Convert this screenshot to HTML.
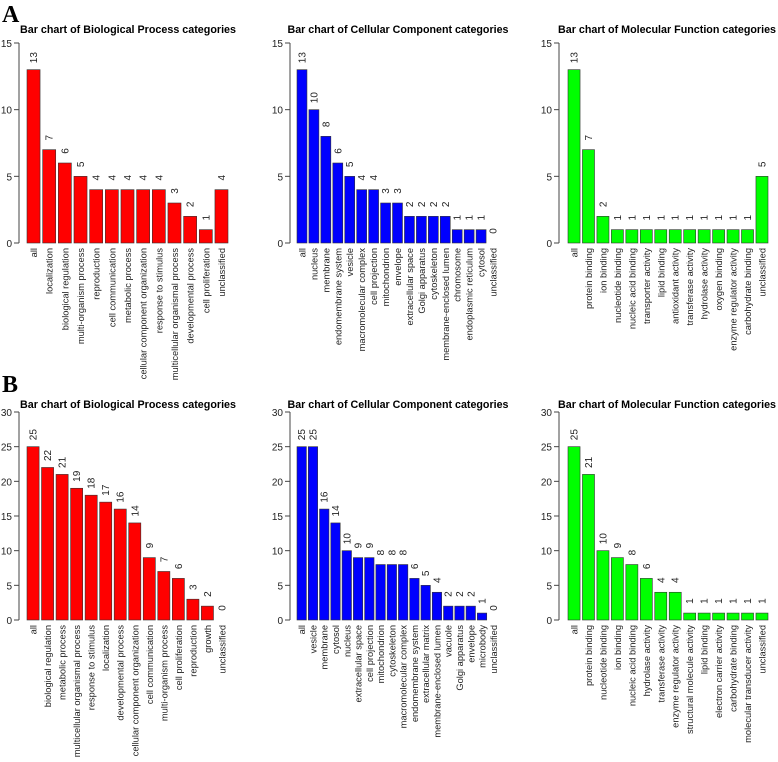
<!DOCTYPE html>
<html><head><meta charset="utf-8"><style>
body{margin:0;background:#fff}
svg{display:block;font-family:"Liberation Sans",sans-serif}
</style></head><body>
<svg id="fig" width="778" height="762" viewBox="0 0 778 762">
<text x="2" y="22" font-family="Liberation Serif,serif" font-weight="bold" font-size="24">A</text>
<text x="2" y="392" font-family="Liberation Serif,serif" font-weight="bold" font-size="24">B</text>
</svg>
<script>
const aBpCats=["all","localization","biological regulation","multi-organism process","reproduction","cell communication","metabolic process","cellular component organization","response to stimulus","multicellular organismal process","developmental process","cell proliferation","unclassified"];
const aBpVals=[13,7,6,5,4,4,4,4,4,3,2,1,4];
const aCcCats=["all","nucleus","membrane","endomembrane system","vesicle","macromolecular complex","cell projection","mitochondrion","envelope","extracellular space","Golgi apparatus","cytoskeleton","membrane-enclosed lumen","chromosome","endoplasmic reticulum","cytosol","unclassified"];
const aCcVals=[13,10,8,6,5,4,4,3,3,2,2,2,2,1,1,1,0];
const aMfCats=["all","protein binding","ion binding","nucleotide binding","nucleic acid binding","transporter activity","lipid binding","antioxidant activity","transferase activity","hydrolase activity","oxygen binding","enzyme regulator activity","carbohydrate binding","unclassified"];
const aMfVals=[13,7,2,1,1,1,1,1,1,1,1,1,1,5];
const bBpCats=["all","biological regulation","metabolic process","multicellular organismal process","response to stimulus","localization","developmental process","cellular component organization","cell communication","multi-organism process","cell proliferation","reproduction","growth","unclassified"];
const bBpVals=[25,22,21,19,18,17,16,14,9,7,6,3,2,0];
const bCcCats=["all","vesicle","membrane","cytosol","nucleus","extracellular space","cell projection","mitochondrion","cytoskeleton","macromolecular complex","endomembrane system","extracellular matrix","membrane-enclosed lumen","vacuole","Golgi apparatus","envelope","microbody","unclassified"];
const bCcVals=[25,25,16,14,10,9,9,8,8,8,6,5,4,2,2,2,1,0];
const bMfCats=["all","protein binding","nucleotide binding","ion binding","nucleic acid binding","hydrolase activity","transferase activity","enzyme regulator activity","structural molecule activity","lipid binding","electron carrier activity","carbohydrate binding","molecular transducer activity","unclassified"];
const bMfVals=[25,21,10,9,8,6,4,4,1,1,1,1,1,1];
const aTicks=[0,5,10,15];
const bTicks=[0,5,10,15,20,25,30];

const NS="http://www.w3.org/2000/svg";
const svg=document.getElementById('fig');
function mk(tag,attrs,parent){const e=document.createElementNS(NS,tag);for(const k in attrs)e.setAttribute(k,attrs[k]);parent.appendChild(e);return e;}

function chart(o){
  const g=mk('g',{},svg);
  
  
  const y=v=>o.y0-(v/o.ymax)*(o.y0-o.yTop);
  const n=o.cats.length;
  const w=(o.x1-o.x0)/(n*1.2-0.2), p=w*1.2;
  const t=mk('text',{x:o.tx,y:o.ty,'text-anchor':'middle','font-weight':'bold','font-size':'11',textLength:o.tl,lengthAdjust:'spacingAndGlyphs'},g);
  t.textContent=o.title;
  
  
  const ax=mk('line',{x1:o.ax,x2:o.ax,y1:y(0),y2:y(o.ymax),stroke:'#444','stroke-width':1},g);
  
  
  o.ticks.forEach(tv=>{
    const tl=mk('line',{x1:o.ax-5,x2:o.ax,y1:y(tv),y2:y(tv),stroke:'#444'},g);
    
    
    const tt=mk('text',{x:o.ax-7,y:y(tv)+4,'text-anchor':'end','font-size':'10',fill:'#222'},g);
    tt.textContent=tv;
    
    
  });
  o.cats.forEach((c,i)=>{
    const bx=o.x0+i*p, v=o.vals[i], cx=bx+w/2;
    const r=mk('rect',{x:bx,y:y(v),width:w,height:y(0)-y(v),fill:o.color,stroke:'#333','stroke-width':0.6},g);
    
    
    const vl=mk('text',{transform:`translate(${cx+3.5},${y(v)-12}) rotate(-90)`,'text-anchor':'middle','font-size':'10',fill:'#222'},g);
    vl.textContent=v;
    
    
    const cl=mk('text',{transform:`translate(${cx+3.5},${y(0)+5}) rotate(-90)`,'text-anchor':'end','font-size':'9.3',fill:'#222'},g);
    cl.textContent=c;
    
    
  });
}
const cols=[{ax:19,x0:27,x1:228,tx:128,tl:216},{ax:290,x0:297,x1:498,tx:398,tl:221},{ax:559,x0:568,x1:768,tx:667,tl:218}];
const rowA={y0:243,yTop:43,ymax:15,ticks:aTicks,ty:33};
const rowB={y0:620,yTop:412,ymax:30,ticks:bTicks,ty:408};
chart({...cols[0],...rowA,cats:aBpCats,vals:aBpVals,color:'#ff0000',title:'Bar chart of Biological Process categories',name:'chart-a-biological-process'});
chart({...cols[1],...rowA,cats:aCcCats,vals:aCcVals,color:'#0000ff',title:'Bar chart of Cellular Component categories',name:'chart-a-cellular-component'});
chart({...cols[2],...rowA,cats:aMfCats,vals:aMfVals,color:'#00ff00',title:'Bar chart of Molecular Function categories',name:'chart-a-molecular-function'});
chart({...cols[0],...rowB,cats:bBpCats,vals:bBpVals,color:'#ff0000',title:'Bar chart of Biological Process categories',name:'chart-b-biological-process'});
chart({...cols[1],...rowB,cats:bCcCats,vals:bCcVals,color:'#0000ff',title:'Bar chart of Cellular Component categories',name:'chart-b-cellular-component'});
chart({...cols[2],...rowB,cats:bMfCats,vals:bMfVals,color:'#00ff00',title:'Bar chart of Molecular Function categories',name:'chart-b-molecular-function'});
</script>
</body></html>
